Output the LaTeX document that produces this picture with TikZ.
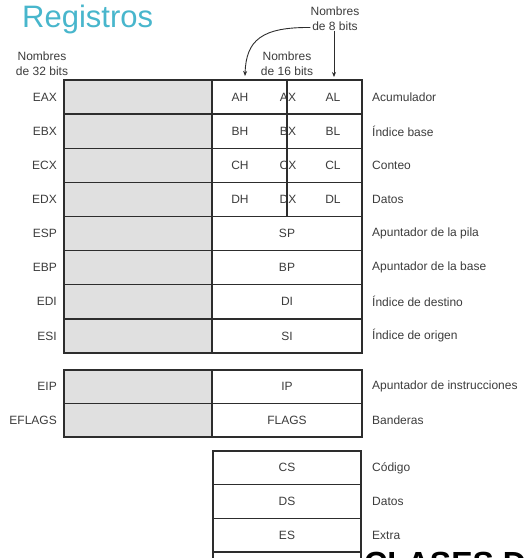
\documentclass[tikz,border=0pt]{standalone}
\usepackage{fontspec}
\setmainfont{Liberation Sans}
\usetikzlibrary{positioning,arrows.meta}
\definecolor{titlecyan}{RGB}{72,182,204}
\definecolor{regline}{RGB}{45,45,45}
\definecolor{regtext}{RGB}{60,60,60}
\definecolor{regshade}{RGB}{224,224,224}

\begin{document}
\begin{tikzpicture}[x=1pt,y=-1pt,
  every node/.style={inner sep=0pt, text=regtext, font=\fontsize{12}{15}\selectfont},
  hicell/.style={draw=regline, line width=1.3pt, fill=regshade, minimum width=148pt, minimum height=#1},
  locell/.style={draw=regline, line width=1.3pt, fill=white, minimum width=150pt, minimum height=#1},
  segcell/.style={draw=regline, line width=1.3pt, fill=white, minimum width=148pt, minimum height=33.7pt},
  regname/.style={anchor=east},
  regdesc/.style={anchor=west},
  names/.style={align=center},
  pointer/.style={draw=regline, line width=0.9pt, -{Stealth[length=5pt,width=4pt]}}]
\clip (0,0) rectangle (524,558);
\node[anchor=base west, text=titlecyan, font=\fontsize{31}{36}\selectfont] (title) at (22,27.5) {Registros};
% column headings
\node[names] (n32) at (42,63.5) {Nombres\\de 32 bits};
\node[names] (n16) at (287,63.5) {Nombres\\de 16 bits};
\node[names] (n8) at (335,18.5) {Nombres\\de 8 bits};
% general registers with 8 bit halves
\foreach \r/\n/\hh/\xx/\ll/\desc [count=\i] in {eax/EAX/AH/AX/AL/Acumulador, ebx/EBX/BH/BX/BL/Índice base, ecx/ECX/CH/CX/CL/Conteo, edx/EDX/DH/DX/DL/Datos}{
  \pgfmathsetmacro\yc{80+34.125*(\i-0.5)}
  \node[hicell=34.125pt] (\r-hi) at (138,\yc) {};
  \node[locell=34.125pt] (\r-lo) at (287,\yc) {};
  \node[regname] (\r-name) at (57,\yc) {\n};
  \node[regdesc] (\r-desc) at (372,\yc) {\desc};
  \node (\r-h) at (240,\yc) {\hh};
  \node (\r-x) at (288,\yc) {\xx};
  \node (\r-l) at (333,\yc) {\ll};
}
\draw[regline, line width=1.3pt] (eax-lo.north) -- (edx-lo.south);
% pointer and index registers
\foreach \r/\n/\xx/\desc [count=\i from 5] in {esp/ESP/SP/Apuntador de la pila, ebp/EBP/BP/Apuntador de la base, edi/EDI/DI/Índice de destino, esi/ESI/SI/Índice de origen}{
  \pgfmathsetmacro\yc{80+34.125*(\i-0.5)}
  \node[hicell=34.125pt] (\r-hi) at (138,\yc) {};
  \node[locell=34.125pt] (\r-lo) at (287,\yc) {\xx};
  \node[regname] (\r-name) at (57,\yc) {\n};
  \node[regdesc] (\r-desc) at (372,\yc) {\desc};
}
% instruction pointer and flags
\foreach \r/\n/\xx/\desc [count=\i] in {eip/EIP/IP/Apuntador de instrucciones, eflags/EFLAGS/FLAGS/Banderas}{
  \pgfmathsetmacro\yc{370+33.5*(\i-0.5)}
  \node[hicell=33.5pt] (\r-hi) at (138,\yc) {};
  \node[locell=33.5pt] (\r-lo) at (287,\yc) {\xx};
  \node[regname] (\r-name) at (57,\yc) {\n};
  \node[regdesc] (\r-desc) at (372,\yc) {\desc};
}
% segment registers
\foreach \r/\xx/\desc [count=\i] in {cs/CS/Código, ds/DS/Datos, es/ES/Extra}{
  \pgfmathsetmacro\yc{451+33.7*(\i-0.5)}
  \node[segcell] (\r) at (287,\yc) {\xx};
  \node[regdesc] (\r-desc) at (372,\yc) {\desc};
}
\node[segcell] (fs) at (287,568.85) {};
\node[anchor=north west, text=black, font=\fontsize{32}{36}\selectfont\bfseries] (caption) at (364,551.5) {CLASES D};
% arrows from the 8 bit heading
\coordinate (al-tip) at (334,77);
\coordinate (ah-tip) at (245,76);
\draw[pointer] (n8.south -| al-tip) -- (al-tip);
\draw[pointer] ([yshift=-9pt]n8.west) .. controls (262,27) and (246,40) .. (ah-tip);
\end{tikzpicture}
\end{document}
